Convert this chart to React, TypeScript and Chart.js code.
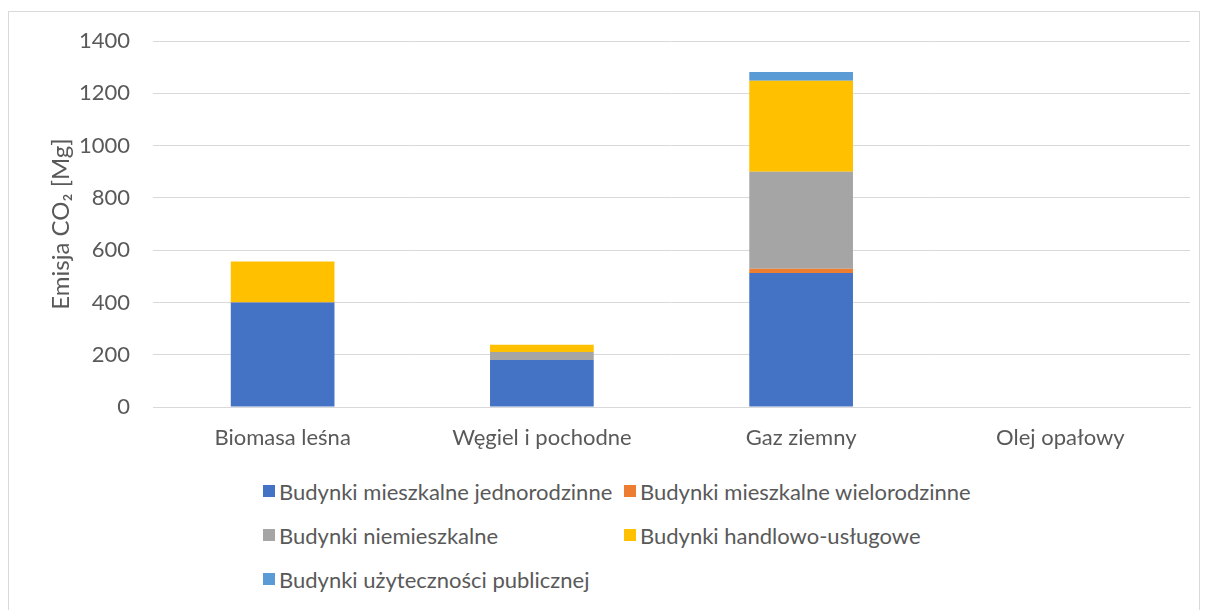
import React, { useEffect, useRef } from "react";
import { Chart, registerables } from "chart.js";

Chart.register(...registerables);

const categories = ["Biomasa leśna", "Węgiel i pochodne", "Gaz ziemny", "Olej opałowy"];
const seriesNames = [
  "Budynki mieszkalne jednorodzinne",
  "Budynki mieszkalne wielorodzinne",
  "Budynki niemieszkalne",
  "Budynki handlowo-usługowe",
  "Budynki użyteczności publicznej",
];
const jednorodzinne = [400, 180, 513, 0];
const wielorodzinne = [1, 0, 16, 0];
const niemieszkalne = [0, 30, 371, 0];
const handlowe = [156, 28, 348, 0];
const publiczne = [0, 0, 33, 0];
const seriesColors = ["#4472C4", "#ED7D31", "#A5A5A5", "#FFC000", "#5B9BD5"];
const yTicks = [0, 200, 400, 600, 800, 1000, 1200, 1400];

const FONT = "Lato, 'Open Sans', sans-serif";
const TEXT = "#595959";
const FS = 22;

export default function App() {
  const ref = useRef<HTMLCanvasElement | null>(null);
  useEffect(() => {
    if (!ref.current) return;
    const values = [jednorodzinne, wielorodzinne, niemieszkalne, handlowe, publiczne];
    const chart = new Chart(ref.current, {
      type: "bar",
      data: {
        labels: categories,
        datasets: values.map((v, i) => ({
          label: seriesNames[i],
          data: v,
          backgroundColor: seriesColors[i],
          borderWidth: 0,
          barPercentage: 0.4,
          categoryPercentage: 1,
        })),
      },
      options: {
        animation: false,
        responsive: false,
        maintainAspectRatio: false,
        layout: { padding: { top: 29, right: 9, left: 0, bottom: 0 } },
        plugins: { legend: { display: false }, tooltip: { enabled: false } },
        scales: {
          x: {
            stacked: true,
            grid: { display: false, drawTicks: false },
            border: { color: "#d9d9d9" },
            ticks: { color: TEXT, font: { family: FONT, size: FS }, padding: 18 },
            afterFit: (s: any) => {
              s.height = 45;
              s.paddingLeft = 0;
              s.paddingRight = 0;
            },
          },
          y: {
            stacked: true,
            min: 0,
            max: 1400,
            afterBuildTicks: (s: any) => { s.ticks = yTicks.map((v) => ({ value: v })); },
            grid: { color: "#d9d9d9", drawTicks: false },
            border: { display: false },
            ticks: {
              color: TEXT,
              font: { family: FONT, size: FS },
              padding: 23,
              callback: (v: any) => String(v),
            },
            title: {
              display: true,
              text: "Emisja CO₂ [Mg]",
              color: TEXT,
              font: { family: FONT, size: 24 },
              padding: { top: 38, bottom: 0 },
            },
            afterFit: (s: any) => {
              s.width = 144;
              s.paddingTop = 0;
              s.paddingBottom = 0;
            },
          },
        },
      },
    });
    return () => chart.destroy();
  }, []);

  const legendRows = [
    [0, 1],
    [2, 3],
    [4],
  ];
  const colX = [263, 624];
  const rowY = [492, 536, 580];

  return (
    <div style={{ position: "absolute", left: 0, top: 0, width: 1208, height: 610, overflow: "hidden" }}>
      <div
        style={{
          position: "absolute",
          left: 8,
          top: 11,
          width: 1190,
          height: 610,
          border: "1px solid #d9d9d9",
          background: "#fff",
        }}
      />
      <canvas
        ref={ref}
        width={1190}
        height={440}
        style={{ position: "absolute", left: 9, top: 12, width: 1190, height: 440 }}
      />
      {legendRows.map((row, r) =>
        row.map((idx, c) => (
          <div
            key={idx}
            style={{
              position: "absolute",
              left: colX[c],
              top: rowY[r] - 16,
              height: 30,
              display: "flex",
              alignItems: "center",
              fontFamily: FONT,
              fontSize: FS,
              color: TEXT,
              whiteSpace: "nowrap",
            }}
          >
            <span
              style={{
                display: "inline-block",
                width: 12,
                height: 12,
                background: seriesColors[idx],
                marginRight: 4,
              }}
            />
            {seriesNames[idx]}
          </div>
        ))
      )}
    </div>
  );
}
